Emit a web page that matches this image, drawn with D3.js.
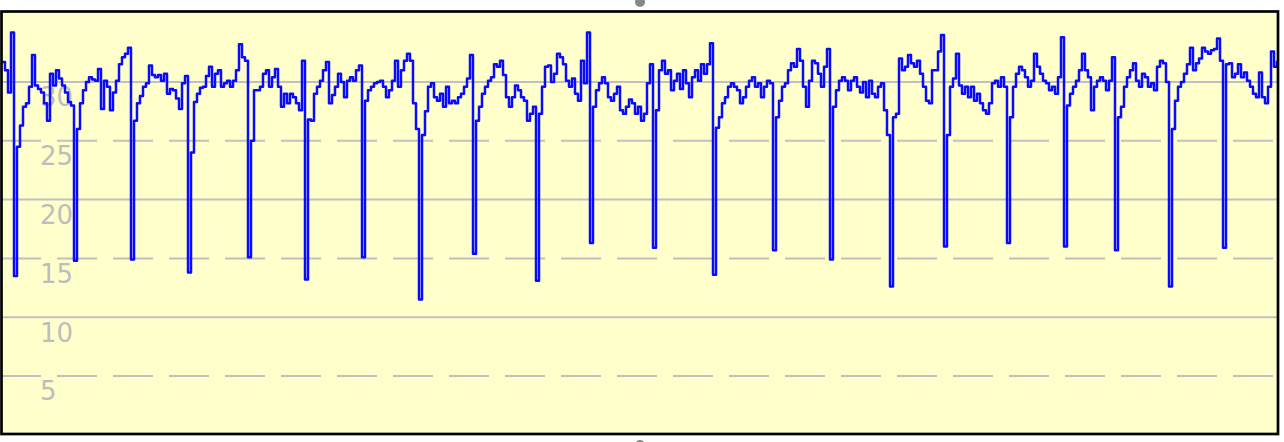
<!DOCTYPE html>
<html>
<head>
	<meta charset="utf-8">
	<script src="https://d3js.org/d3.v7.min.js"></script>
	<style>
		body { margin: 0; background: #fff; }
		svg { display: block; }
	</style>
</head>
<body>
	<svg width="1284" height="442"></svg>
	<script>
		// readings, one every sample step, left to right
		const values = [
		31.7, 31.0, 29.1, 34.2, 13.5, 24.5, 26.3, 27.9, 28.2, 29.6, 32.3, 29.7, 29.4, 29.1, 28.2, 26.7,
		30.7, 29.7, 31.0, 30.3, 29.7, 29.1, 28.3, 28.0, 14.8, 26.0, 28.2, 29.3, 30.0, 30.4, 30.2, 30.1,
		31.1, 27.7, 30.1, 29.6, 27.6, 29.1, 30.1, 31.5, 32.1, 32.4, 32.9, 14.9, 26.7, 28.2, 28.8, 29.6,
		29.9, 31.4, 30.6, 30.4, 30.6, 30.1, 30.7, 29.0, 29.4, 29.3, 28.6, 27.7, 29.9, 30.5, 13.8, 24.0,
		28.3, 29.0, 29.5, 29.6, 30.5, 31.3, 29.6, 30.7, 31.0, 29.6, 29.9, 30.1, 29.6, 30.1, 31.0, 33.2,
		32.1, 31.8, 15.1, 25.0, 29.3, 29.3,
		29.6, 30.7, 31.0, 29.6, 30.4, 31.1, 29.6, 27.9, 29.0, 28.2, 29.0, 28.7, 28.2, 27.6, 31.8, 13.2,
		26.8, 26.7, 29.0, 29.6, 30.1, 31.0, 31.7, 28.2, 28.9, 29.6, 30.7, 30.0, 28.7, 30.1, 30.4, 30.1,
		31.0, 31.4, 15.1, 28.4, 29.3, 29.6, 29.9, 30.0, 30.1, 29.6, 28.7, 29.3, 30.1, 31.8, 29.6, 31.0,
		31.8, 32.4, 31.8, 28.2, 26.0, 11.5, 25.5, 27.5, 29.6, 29.9, 28.7, 28.4, 29.0, 27.9, 29.6, 28.2,
		28.4, 28.2, 28.7, 29.0, 29.6, 30.3, 32.3, 15.4, 26.7, 27.9, 29.0, 29.6, 30.1, 30.4, 31.5, 31.3,
		31.8, 30.6, 28.7, 27.9, 28.7,
		29.7, 29.3, 28.7, 28.4, 26.7, 27.3, 27.9, 13.1, 27.3, 29.6, 31.3, 31.4, 30.0, 30.7, 32.4, 32.1,
		31.5, 30.1, 29.6, 30.3, 29.0, 28.4, 31.8, 29.9, 34.2, 16.3, 27.9, 29.3, 29.9, 30.4, 29.9, 28.7,
		28.4, 29.0, 29.6, 27.6, 27.3, 27.9, 28.5, 28.2, 27.3, 27.9, 26.7, 27.3, 29.9, 31.5, 15.9, 27.6,
		31.0, 31.8, 30.7, 31.0, 29.3, 30.1, 30.7, 29.4, 31.0, 29.9, 28.7, 30.4, 31.0, 30.1, 31.5, 30.7,
		31.5, 33.3, 13.6, 26.1, 27.0, 28.2, 28.7, 29.6, 29.9, 29.6, 29.3, 28.2, 28.7, 29.6, 30.1, 30.4,
		29.6, 29.9, 28.7, 29.6, 30.1, 29.9,
		15.7, 27.0, 28.4, 29.6, 29.9, 31.0, 31.6, 31.3, 32.8, 31.8, 29.6, 27.9, 30.1, 31.8, 31.6, 30.7,
		29.6, 31.3, 32.8, 14.9, 27.9, 29.3, 30.1, 30.4, 30.1, 29.3, 30.1, 30.4, 29.6, 29.1, 30.0, 28.7,
		30.1, 29.0, 28.7, 29.6, 29.9, 27.6, 25.5, 12.6, 27.0, 27.3, 32.0, 31.0, 31.3, 32.3, 31.6, 31.3,
		31.8, 30.7, 29.6, 28.4, 28.2, 31.0, 31.0, 32.6, 34.0, 16.0, 25.5, 29.6, 30.3, 32.4, 29.7, 29.0,
		29.6, 28.7, 29.6, 28.4, 29.0, 28.2, 27.6, 27.3, 28.2, 29.9, 30.1, 29.6, 30.4, 29.6, 16.3, 27.0,
		29.6, 30.7, 31.3, 31.0, 30.4,
		29.6, 30.1, 32.4, 31.3, 30.7, 30.1, 29.9, 29.3, 29.6, 29.0, 30.4, 33.8, 16.0, 28.0, 29.0, 29.6,
		30.1, 31.0, 32.4, 31.0, 30.4, 27.6, 29.6, 30.1, 30.4, 30.1, 29.3, 30.1, 32.1, 15.7, 27.0, 27.9,
		29.6, 30.4, 31.0, 31.6, 30.1, 29.6, 30.7, 30.4, 29.6, 29.9, 29.3, 31.3, 31.8, 31.6, 30.0, 12.6,
		26.0, 28.4, 29.6, 30.0, 30.7, 31.5, 32.9, 31.0, 31.6, 32.0, 32.9, 32.6, 32.4, 32.7, 32.8, 33.7,
		31.8, 15.9, 31.5, 31.6, 30.4, 30.7, 31.5, 30.4, 30.8, 30.1, 29.6, 29.0, 28.7, 30.8, 28.7, 28.2,
		29.6, 32.6, 31.3, 31.8
		];

		const yTicks = [5, 10, 15, 20, 25, 30];
		const dashedTicks = [5, 15, 25];

		const svg = d3.select("svg");
		const W = +svg.attr("width");

		const x = d3.scaleLinear().domain([0, values.length - 1]).range([2, 1277]);
		const y = d3.scaleLinear().domain([0, 36]).range([434.8, 11.4]);

		// plot area
		svg.append("rect")
		.attr("x", 1.5).attr("y", 11.5)
		.attr("width", 1276.5).attr("height", 422.5)
		.attr("fill", "#ffffcc");

		// grid
		svg.append("g")
		.selectAll("line")
		.data(yTicks)
		.enter().append("line")
		.attr("x1", 1).attr("x2", 1278)
		.attr("y1", d => y(d)).attr("y2", d => y(d))
		.attr("stroke", "#c0c0c0")
		.attr("stroke-width", 2)
		.attr("stroke-dasharray", d => dashedTicks.includes(d) ? "40,16" : null);

		// labels
		svg.append("g")
		.selectAll("text")
		.data(yTicks)
		.enter().append("text")
		.attr("x", 40)
		.attr("y", d => y(d) + 24.5)
		.attr("fill", "#bdbdbd")
		.style("font-family", "'DejaVu Sans', Verdana, sans-serif")
		.style("font-size", "26px")
		.text(d => d);

		// series
		svg.append("path")
		.datum(values)
		.attr("fill", "none")
		.attr("stroke", "#0a0aff")
		.attr("stroke-width", 2.5)
		.attr("stroke-linejoin", "round")
		.attr("d", d3.line()
		.x((d, i) => x(i))
		.y(d => y(d))
		.curve(d3.curveStepAfter));

		// frame
		svg.append("rect")
		.attr("x", 1.5).attr("y", 11.5)
		.attr("width", 1276.5).attr("height", 422.5)
		.attr("fill", "none")
		.attr("stroke", "#000")
		.attr("stroke-width", 2.7);

		// handles
		svg.selectAll("circle.handle")
		.data([2, 445])
		.enter().append("circle")
		.attr("class", "handle")
		.attr("cx", W / 2 - 2)
		.attr("cy", d => d)
		.attr("r", 5)
		.attr("fill", "#888");
	</script>
</body>
</html>
